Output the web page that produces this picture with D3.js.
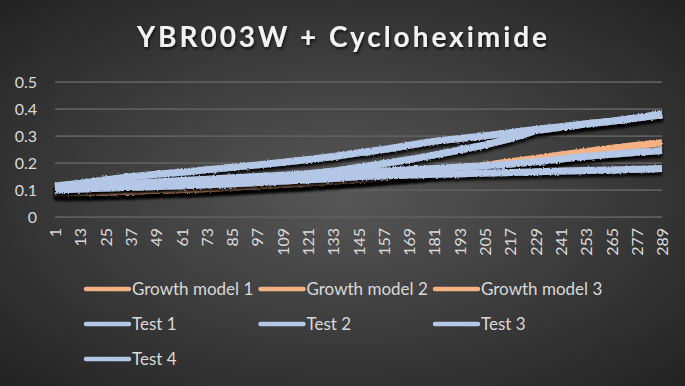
<!DOCTYPE html>
<html>
<head>
<meta charset="utf-8">
<script src="https://cdn.jsdelivr.net/npm/d3@7"></script>
<style>
  body { margin: 0; background: #262626; }
  svg { display: block; }
</style>
</head>
<body>
<div id="chart"></div>
<script>
var tickLabels = [1, 13, 25, 37, 49, 61, 73, 85, 97, 109, 121, 133, 145, 157, 169, 181, 193, 205, 217, 229, 241, 253, 265, 277, 289];
var yTicks = [0, 0.1, 0.2, 0.3, 0.4, 0.5];

var growth1 = [0.089, 0.089, 0.091, 0.094, 0.097, 0.100, 0.104, 0.109, 0.114, 0.119, 0.124, 0.130, 0.137, 0.144, 0.152, 0.161, 0.172, 0.184, 0.196, 0.207, 0.217, 0.228, 0.238, 0.248, 0.256];
var growth2 = [0.090, 0.090, 0.092, 0.095, 0.098, 0.101, 0.105, 0.110, 0.115, 0.120, 0.125, 0.131, 0.138, 0.145, 0.153, 0.163, 0.175, 0.187, 0.200, 0.212, 0.224, 0.236, 0.247, 0.257, 0.265];
var growth3 = [0.091, 0.091, 0.093, 0.096, 0.099, 0.102, 0.106, 0.111, 0.116, 0.121, 0.127, 0.133, 0.140, 0.148, 0.157, 0.167, 0.179, 0.192, 0.205, 0.217, 0.230, 0.243, 0.255, 0.266, 0.275];
var test1 = [0.115, 0.125, 0.138, 0.149, 0.158, 0.166, 0.175, 0.184, 0.193, 0.203, 0.213, 0.224, 0.238, 0.250, 0.266, 0.281, 0.291, 0.301, 0.312, 0.325, 0.334, 0.345, 0.355, 0.366, 0.384];
var test2 = [0.110, 0.115, 0.120, 0.125, 0.130, 0.135, 0.140, 0.145, 0.150, 0.155, 0.160, 0.170, 0.184, 0.198, 0.213, 0.230, 0.248, 0.267, 0.290, 0.320, 0.332, 0.344, 0.355, 0.367, 0.379];
var test3 = [0.106, 0.110, 0.115, 0.120, 0.125, 0.130, 0.135, 0.140, 0.145, 0.150, 0.155, 0.160, 0.165, 0.170, 0.175, 0.180, 0.185, 0.190, 0.196, 0.205, 0.215, 0.225, 0.232, 0.240, 0.246];
var test4 = [0.100, 0.104, 0.107, 0.110, 0.113, 0.116, 0.119, 0.123, 0.128, 0.133, 0.138, 0.143, 0.150, 0.153, 0.156, 0.158, 0.160, 0.163, 0.165, 0.168, 0.170, 0.172, 0.174, 0.177, 0.180];

var seriesNames = ["Growth model 1", "Growth model 2", "Growth model 3", "Test 1", "Test 2", "Test 3", "Test 4"];
var seriesValues = [growth1, growth2, growth3, test1, test2, test3, test4];
var orange = "#f4b183", blue = "#b4c7e7";
var colors = [orange, orange, orange, blue, blue, blue, blue];

var width = 685, height = 386;
var plotLeft = 55, plotRight = 662, plotTop = 82, plotBottom = 217;

var svg = d3.select("#chart")
  .append("svg")
  .attr("width", width)
  .attr("height", height);

var defs = svg.append("defs");
var grad = defs.append("radialGradient")
  .attr("id", "bg")
  .attr("cx", "50%").attr("cy", "50%").attr("r", "70%");
grad.append("stop").attr("offset", "0%").attr("stop-color", "#575757");
grad.append("stop").attr("offset", "100%").attr("stop-color", "#232323");

// jagged edges + the dark drop shadow under every series
var rough = defs.append("filter").attr("id", "rough")
  .attr("filterUnits", "userSpaceOnUse")
  .attr("x", 0).attr("y", 0).attr("width", width).attr("height", height);
rough.append("feTurbulence")
  .attr("type", "fractalNoise").attr("baseFrequency", "0.6")
  .attr("numOctaves", 1).attr("seed", 3).attr("result", "noise");
rough.append("feDisplacementMap")
  .attr("in", "SourceGraphic").attr("in2", "noise")
  .attr("scale", 3).attr("xChannelSelector", "R").attr("yChannelSelector", "G")
  .attr("result", "disp");
rough.append("feDropShadow")
  .attr("in", "disp")
  .attr("dx", 0).attr("dy", 3.5).attr("stdDeviation", 1.8)
  .attr("flood-color", "#000").attr("flood-opacity", 0.9);

var titleShadow = defs.append("filter").attr("id", "tshadow");
titleShadow.append("feDropShadow")
  .attr("dx", 1).attr("dy", 2).attr("stdDeviation", 1.5)
  .attr("flood-color", "#000").attr("flood-opacity", 0.7);

svg.append("rect")
  .attr("width", width).attr("height", height)
  .attr("fill", "url(#bg)");

// title
svg.append("text")
  .attr("x", 342).attr("y", 47)
  .attr("text-anchor", "middle")
  .attr("fill", "#f2f2f2")
  .attr("font-family", "Lato, 'Open Sans', sans-serif")
  .attr("font-weight", "bold")
  .attr("font-size", 28)
  .attr("textLength", 410)
  .attr("lengthAdjust", "spacing")
  .attr("filter", "url(#tshadow)")
  .text("YBR003W + Cycloheximide");

var x = d3.scaleLinear().domain([1, 289]).range([plotLeft, plotRight]);
var y = d3.scaleLinear().domain([0, 0.5]).range([plotBottom, plotTop]);

// gridlines
svg.append("g")
  .selectAll("line")
  .data(yTicks)
  .enter()
  .append("line")
  .attr("x1", plotLeft).attr("x2", plotRight)
  .attr("y1", function (d) { return y(d); })
  .attr("y2", function (d) { return y(d); })
  .attr("stroke", "#5e5e5e")
  .attr("stroke-width", 1.75);

var yAxis = d3.axisLeft(y).tickValues(yTicks).tickSize(0).tickPadding(0)
  .tickFormat(function (d) { return d === 0 ? "0" : d3.format(".1f")(d); });
var gy = svg.append("g")
  .attr("transform", "translate(37,0)")
  .call(yAxis);
gy.select(".domain").remove();
gy.selectAll("text")
  .attr("fill", "#d9d9d9")
  .attr("font-family", "Lato, sans-serif")
  .attr("font-size", 16);

var xAxis = d3.axisBottom(x).tickValues(tickLabels).tickSize(0).tickPadding(0);
var gx = svg.append("g")
  .attr("transform", "translate(0," + plotBottom + ")")
  .call(xAxis);
gx.select(".domain").remove();
gx.selectAll("text")
  .attr("fill", "#d9d9d9")
  .attr("font-family", "Lato, sans-serif")
  .attr("font-size", 16)
  .attr("text-anchor", "end")
  .attr("dy", "0.35em")
  .attr("transform", "translate(0,11) rotate(-90)")
  .attr("x", 0).attr("y", 0);

var line = d3.line()
  .x(function (d, i) { return x(tickLabels[i]); })
  .y(function (d) { return y(d); });

svg.append("g")
  .selectAll("path")
  .data(seriesValues)
  .enter()
  .append("path")
  .attr("d", function (d) { return line(d); })
  .attr("fill", "none")
  .attr("stroke", function (d, i) { return colors[i]; })
  .attr("stroke-width", 7)
  .attr("stroke-linejoin", "round")
  .attr("filter", "url(#rough)");

// legend
var legend = svg.append("g");
var items = legend.selectAll("g")
  .data(seriesNames)
  .enter()
  .append("g")
  .attr("transform", function (d, i) {
    return "translate(" + (86 + (i % 3) * 174.5) + "," + (289 + Math.floor(i / 3) * 35) + ")";
  });
items.append("line")
  .attr("x1", 0).attr("x2", 43)
  .attr("stroke", function (d, i) { return colors[i]; })
  .attr("stroke-width", 4.5)
  .attr("stroke-linecap", "round");
items.append("text")
  .attr("x", 46).attr("y", 6)
  .attr("fill", "#d9d9d9")
  .attr("font-family", "Lato, sans-serif")
  .attr("font-size", 17)
  .text(function (d) { return d; });
</script>
</body>
</html>
